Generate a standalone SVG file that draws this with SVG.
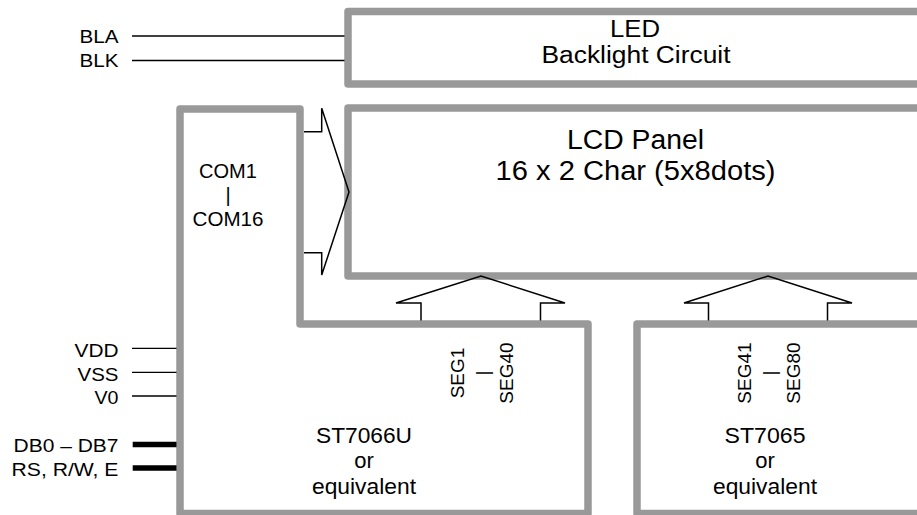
<svg xmlns="http://www.w3.org/2000/svg" width="917" height="515" viewBox="0 0 917 515">
<style>
text{font-family:"Liberation Sans",Arial,Helvetica,sans-serif;fill:#000}
.lbl{font-size:19px;text-anchor:end}
.c{text-anchor:middle}
.box{fill:#fff;stroke:#999;stroke-width:7.5;stroke-linejoin:round}
.wire{stroke:#000;stroke-width:1.3;fill:none}
.bus{stroke:#000;stroke-width:5.5}
.arr{fill:none;stroke:#000;stroke-width:1.5;stroke-linejoin:miter}
</style>
<rect width="917" height="515" fill="#fff"/>
<g id="led">
<rect class="box" x="348" y="11.5" width="620" height="72.5"/>
<text class="c" x="635" y="37.3" font-size="23" textLength="50" lengthAdjust="spacingAndGlyphs">LED</text>
<text class="c" x="636" y="63.3" font-size="23" textLength="189" lengthAdjust="spacingAndGlyphs">Backlight Circuit</text>
</g>
<g id="lcd">
<rect class="box" x="348" y="108" width="620" height="168"/>
<text class="c" x="635.5" y="149.3" font-size="27" textLength="137" lengthAdjust="spacingAndGlyphs">LCD Panel</text>
<text class="c" x="635.5" y="180" font-size="27" textLength="280" lengthAdjust="spacingAndGlyphs">16 x 2 Char (5x8dots)</text>
</g>
<g id="st7066u">
<path class="box" d="M180,513.5 V109 H300 V324 H588 V513.5 Z"/>
<text class="c" x="228" y="177.7" font-size="20">COM1</text>
<text class="c" x="228" y="201.7" font-size="20">|</text>
<text class="c" x="228" y="225.7" font-size="20" textLength="71" lengthAdjust="spacingAndGlyphs">COM16</text>
<text class="c" font-size="19" transform="translate(464,373) rotate(-90)"><tspan x="0" y="0">SEG1</tspan><tspan x="0" y="24.5">|</tspan><tspan x="0" y="49">SEG40</tspan></text>
<text class="c" x="364" y="442.5" font-size="22" textLength="96" lengthAdjust="spacingAndGlyphs">ST7066U</text>
<text class="c" x="364" y="468" font-size="22">or</text>
<text class="c" x="364" y="493.5" font-size="22" textLength="104" lengthAdjust="spacingAndGlyphs">equivalent</text>
</g>
<g id="st7065">
<rect class="box" x="637" y="324" width="330" height="189.5"/>
<text class="c" font-size="19" transform="translate(751,373) rotate(-90)"><tspan x="0" y="0">SEG41</tspan><tspan x="0" y="24.5">|</tspan><tspan x="0" y="49">SEG80</tspan></text>
<text class="c" x="765" y="442.5" font-size="22" textLength="81" lengthAdjust="spacingAndGlyphs">ST7065</text>
<text class="c" x="765" y="468" font-size="22">or</text>
<text class="c" x="765" y="493.5" font-size="22" textLength="104" lengthAdjust="spacingAndGlyphs">equivalent</text>
</g>
<g id="pins">
<text class="lbl" x="118.5" y="42.7" textLength="39" lengthAdjust="spacingAndGlyphs">BLA</text>
<text class="lbl" x="118.5" y="66.7" textLength="39" lengthAdjust="spacingAndGlyphs">BLK</text>
<text class="lbl" x="118.5" y="356.7" textLength="44" lengthAdjust="spacingAndGlyphs">VDD</text>
<text class="lbl" x="118.5" y="380.7" textLength="41" lengthAdjust="spacingAndGlyphs">VSS</text>
<text class="lbl" x="118.5" y="404" textLength="24" lengthAdjust="spacingAndGlyphs">V0</text>
<text class="lbl" x="118.5" y="452.3" textLength="105" lengthAdjust="spacingAndGlyphs">DB0 – DB7</text>
<text class="lbl" x="118.5" y="476" textLength="107" lengthAdjust="spacingAndGlyphs">RS, R/W, E</text>
</g>
<g id="connectors">
<line class="wire" x1="132" y1="36" x2="344.5" y2="36"/>
<line class="wire" x1="132" y1="60.5" x2="344.5" y2="60.5"/>
<line class="wire" x1="132" y1="348.3" x2="176.5" y2="348.3"/>
<line class="wire" x1="132" y1="372.3" x2="176.5" y2="372.3"/>
<line class="wire" x1="132" y1="396" x2="176.5" y2="396"/>
<line class="bus" x1="132.7" y1="444.5" x2="176.5" y2="444.5"/>
<line class="bus" x1="132.7" y1="468" x2="176.5" y2="468"/>
<path class="arr" d="M304,131.7 H321.7 V108.3 L349,192 L321.7,275 V252.7 H304"/>
<path class="arr" d="M421,320.5 V303 H396 L481,276 L565,303 H540.5 V320.5"/>
<path class="arr" d="M708.5,320.5 V303 H684 L768,276 L852,303 H827.5 V320.5"/>
</g>
</svg>
